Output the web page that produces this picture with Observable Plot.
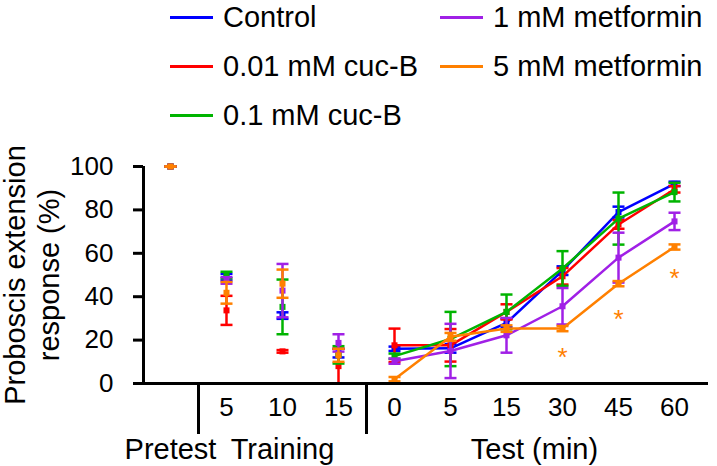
<!DOCTYPE html>
<html><head><meta charset="utf-8">
<script src="https://cdn.jsdelivr.net/npm/d3@7"></script>
<script src="https://cdn.jsdelivr.net/npm/@observablehq/plot@0.6"></script>
<style>
body{margin:0;background:#fff;font-family:"Liberation Sans",Arial,sans-serif;}
#wrap{position:relative;width:717px;height:466px;overflow:hidden;background:#fff;}
#legend{position:relative;width:717px;height:140px;}
.item{position:absolute;display:flex;align-items:center;height:34px;font-size:29px;color:#000;white-space:nowrap;}
.swatch{width:43px;height:3px;margin-right:10px;}
#chart svg{display:block;}
</style></head><body><div id="wrap"><div id="legend"></div><div id="chart"></div></div>
<script>
// Category axis
const tickLabels = ["", "5", "10", "15", "0", "5", "15", "30", "45", "60"];
const phases = ["Pretest", "Training", "Training", "Training", "Test", "Test", "Test", "Test", "Test", "Test"];
const groupNames = ["Pretest", "Training", "Test (min)"];
const groupFirst = [0, 1, 4];
const groupLast = [0, 3, 9];
const yTicks = [0, 20, 40, 60, 80, 100];

// Series
const seriesNames = ["Control", "0.01 mM cuc-B", "0.1 mM cuc-B", "1 mM metformin", "5 mM metformin"];
const seriesColors = ["#0000ff", "#ff0000", "#00b400", "#a020e6", "#ff8000"];

const controlMean = [100, 49, 31.3, 14, 16, 16.2, 27.9, 52, 79, 92];
const controlErr  = [0, 1.5, 1.5, 2, 1, 2, 2, 2, 2.5, 1];
const cucB001Mean = [100, 33.7, 14.8, 8, 17.6, 17.6, 33, 49.4, 73.3, 89.5];
const cucB001Err  = [0, 6.7, 0.6, 8, 7.7, 7.5, 3.5, 3.8, 2, 1.5];
const cucB01Mean  = [100, 50, 35.3, 13.2, 12.6, 20.5, 33, 53, 76, 88.2];
const cucB01Err   = [0, 1.5, 12.6, 4, 1.2, 12.5, 8, 8, 12, 4.3];
const met1Mean    = [100, 47.5, 42.8, 18.7, 10.3, 15, 22.2, 35.6, 58, 74.7];
const met1Err     = [0, 1.5, 12.3, 4, 1.2, 12.5, 8, 8.4, 11.5, 4];
const met5Mean    = [100, 41.8, 46, 13, 2, 21.5, 25.3, 25.3, 46, 62.9];
const met5Err     = [0, 5, 6.5, 3, 1, 1.8, 1.5, 1.2, 1.2, 1.2];

// Significance asterisks (5 mM metformin)
const starIndex = [7, 8, 9];
const starValue = [15, 32.5, 51.4];

const yLabel = "Proboscis extension\nresponse (%)";

const means = [controlMean, cucB001Mean, cucB01Mean, met1Mean, met5Mean];
const errs = [controlErr, cucB001Err, cucB01Err, met1Err, met5Err];

// Legend (HTML, above the SVG)
const legend = document.getElementById("legend");
seriesNames.forEach((name, k) => {
  const col = k < 3 ? 0 : 1, row = k < 3 ? k : k - 3;
  const el = document.createElement("div");
  el.className = "item";
  el.style.left = (col === 0 ? 170 : 440) + "px";
  el.style.top = (row * 49 + 0) + "px";
  el.innerHTML = `<span class="swatch" style="background:${seriesColors[k]}"></span><span>${name}</span>`;
  legend.appendChild(el);
});

const capSymbol = {draw(ctx, size) { const r = Math.sqrt(size / Math.PI); ctx.moveTo(-r, 0); ctx.lineTo(r, 0); }};

const marks = [];
seriesNames.forEach((name, k) => {
  const rows = means[k].map((m, i) => ({i, phase: phases[i], mean: m, lo: Math.max(0, m - errs[k][i]), hi: m + errs[k][i]}));
  const c = seriesColors[k];
  marks.push(
    Plot.line(rows.filter(d => d.phase === "Test"), {x: "i", y: "mean", stroke: c, strokeWidth: 2.5}),
    Plot.ruleX(rows, {x: "i", y1: "lo", y2: "hi", stroke: c, strokeWidth: 2.5}),
    Plot.dot(rows, {x: "i", y: "lo", symbol: capSymbol, r: 6, stroke: c, fill: "none", strokeWidth: 2.5}),
    Plot.dot(rows, {x: "i", y: "hi", symbol: capSymbol, r: 6, stroke: c, fill: "none", strokeWidth: 2.5}),
    Plot.dot(rows, {x: "i", y: "mean", symbol: "square", r: 3.4, fill: c, stroke: "none"})
  );
});

const stars = starIndex.map((i, j) => ({i, v: starValue[j]}));
const groups = groupNames.map((n, j) => ({name: n, c: (groupFirst[j] + groupLast[j]) / 2}));
const dividers = groupLast.slice(0, -1).map(l => l + 0.5);

const chart = Plot.plot({
  width: 717, height: 326,
  marginTop: 26, marginBottom: 83, marginLeft: 143, marginRight: 9,
  style: {fontFamily: "Liberation Sans, Arial, sans-serif", color: "#000", background: "#fff", overflow: "visible"},
  x: {type: "linear", domain: [-0.482, 9.607], axis: null},
  y: {domain: [0, 100], axis: null},
  marks: [
    ...marks,
    Plot.text(stars, {x: "i", y: "v", text: () => "*", fill: seriesColors[4], fontSize: 26, dy: 7}),
    Plot.ruleY([0], {stroke: "#000", strokeWidth: 3}),
    Plot.ruleX([-0.482], {y1: 0, y2: 100, stroke: "#000", strokeWidth: 3}),
    Plot.axisY(yTicks, {anchor: "left", tickSize: 10, tickPadding: 20, fontSize: 26, strokeWidth: 3, label: null}),
    Plot.axisX(d3.range(tickLabels.length), {anchor: "bottom", tickFormat: i => tickLabels[i], tickSize: 0, tickPadding: 14, fontSize: 26, label: null}),
    Plot.axisX(dividers, {anchor: "bottom", tickFormat: () => "", tickSize: 51, strokeWidth: 3, label: null}),
    Plot.text(groups, {x: "c", frameAnchor: "bottom", dy: 66, text: "name", fontSize: 29, lineAnchor: "middle"}),
    Plot.text([yLabel], {frameAnchor: "left", textAnchor: "middle", dx: -112, rotate: -90, fontSize: 29, lineHeight: 1.17, text: d => d})
  ]
});
document.getElementById("chart").appendChild(chart);
</script></body></html>
